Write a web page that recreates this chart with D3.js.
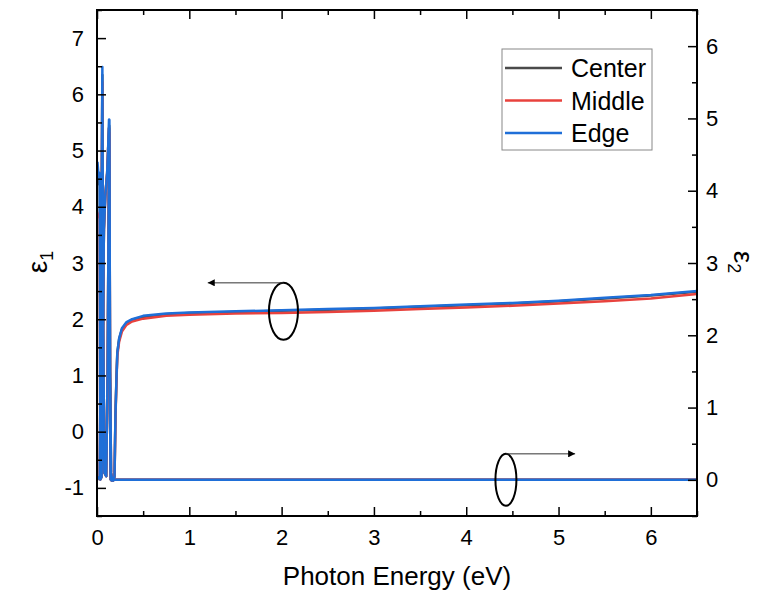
<!DOCTYPE html>
<html>
<head>
<meta charset="utf-8">
<script src="https://cdn.jsdelivr.net/npm/d3@7"></script>
<style>
  body { margin: 0; background: #fff; }
  svg { font-family: "Liberation Sans", Arial, sans-serif; }
</style>
</head>
<body>
<div id="chart"></div>
<script>
// series names / colours
var seriesNames = ["Center", "Middle", "Edge"];
var seriesColors = ["#4a4a4a", "#e8423d", "#1f6fd8"];

// epsilon 1 (left axis)
var eps1Energy = [0.005, 0.02, 0.03, 0.036, 0.05, 0.06, 0.075, 0.09, 0.1, 0.11, 0.12, 0.13, 0.138, 0.148,
  0.16, 0.175, 0.19, 0.2, 0.21, 0.22, 0.24, 0.27, 0.32, 0.38, 0.5, 0.75, 1, 1.5, 2, 2.5, 3, 3.5, 4, 4.5,
  5, 5.5, 6, 6.5];
var eps1Center = [4.6, 4.4, 4.5, -0.85, -0.8, 1.5, 3.6, 4.2, 4.4, 4.6, 5.0, 5.4, 1.0, -0.85,
  -0.87, -0.87, -0.8, 0.3, 0.9, 1.4, 1.65, 1.82, 1.93, 1.99, 2.04, 2.09, 2.11, 2.13, 2.15, 2.17, 2.19, 2.22, 2.25, 2.28,
  2.32, 2.37, 2.42, 2.49];
var eps1Middle = [3.8, 3.85, 3.9, -0.85, -0.8, 1.5, 3.6, 4.2, 4.4, 4.6, 5.0, 5.4, 1.0, -0.85,
  -0.87, -0.87, -0.8, 0.25, 0.85, 1.35, 1.6, 1.78, 1.9, 1.96, 2.01, 2.06, 2.08, 2.1, 2.11, 2.13, 2.15, 2.18, 2.21, 2.24,
  2.28, 2.32, 2.37, 2.45];
var eps1Edge = [4.8, 4.5, 4.6, -0.85, -0.8, 1.5, 3.6, 4.2, 4.4, 4.6, 5.0, 5.55, 1.0, -0.85,
  -0.87, -0.87, -0.8, 0.3, 0.9, 1.4, 1.66, 1.84, 1.95, 2.0, 2.06, 2.1, 2.12, 2.14, 2.16, 2.18, 2.2, 2.23, 2.26, 2.29,
  2.33, 2.38, 2.43, 2.5];

// epsilon 2 (right axis)
var eps2Energy = [0, 0.03, 0.045, 0.058, 0.068, 0.08, 0.1, 0.115, 0.125, 0.133, 0.142, 0.152, 0.165, 0.2, 1, 3, 6.5];
var eps2Center = [0, 0.05, 2.5, 5.6, 2.0, 0.1, 0.05, 1.5, 3.5, 4.9, 1.5, 0.1, 0, 0, 0, 0, 0];
var eps2Middle = [0, 0.05, 2.5, 5.5, 2.0, 0.1, 0.05, 1.5, 3.5, 4.8, 1.5, 0.1, 0, 0, 0, 0, 0];
var eps2Edge = [0, 0.05, 2.5, 5.71, 2.0, 0.1, 0.05, 1.5, 3.5, 4.98, 1.5, 0.1, 0, 0, 0, 0, 0];

var xTicks = [0, 1, 2, 3, 4, 5, 6];
var leftTicks = [-1, 0, 1, 2, 3, 4, 5, 6, 7];
var rightTicks = [0, 1, 2, 3, 4, 5, 6];

var width = 777, height = 590;
var margin = { top: 10, right: 80, bottom: 74, left: 97 };

var svg = d3.select("#chart").append("svg").attr("width", width).attr("height", height);

var x = d3.scaleLinear().domain([0, 6.5]).range([margin.left, width - margin.right]);
var yL = d3.scaleLinear().domain([-1.5, 7.5]).range([height - margin.bottom, margin.top]);
var yR = d3.scaleLinear().domain([-0.5, 6.5]).range([height - margin.bottom, margin.top]);

var eps1 = [eps1Center, eps1Middle, eps1Edge];
var eps2 = [eps2Center, eps2Middle, eps2Edge];

svg.append("clipPath").attr("id", "clip").append("rect")
  .attr("x", margin.left).attr("y", margin.top)
  .attr("width", width - margin.left - margin.right)
  .attr("height", height - margin.top - margin.bottom);

var lines = svg.append("g").attr("clip-path", "url(#clip)");
seriesNames.forEach(function (name, i) {
  var l1 = d3.line().x((d, j) => x(eps1Energy[j])).y((d) => yL(d));
  var l2 = d3.line().x((d, j) => x(eps2Energy[j])).y((d) => yR(d));
  lines.append("path").attr("d", l2(eps2[i])).attr("fill", "none")
    .attr("stroke", seriesColors[i]).attr("stroke-width", 2.5).attr("stroke-linejoin", "round");
  lines.append("path").attr("d", l1(eps1[i])).attr("fill", "none")
    .attr("stroke", seriesColors[i]).attr("stroke-width", 2.5).attr("stroke-linejoin", "round");
});

// axes, ticks inward
var fmt = (d) => String(d);
function minor(domain) {
  var out = [];
  for (var v = Math.ceil(domain[0] * 2) / 2; v <= domain[1] + 1e-9; v += 0.5) {
    if (Math.abs(v - Math.round(v)) > 1e-6) out.push(v);
  }
  return out;
}

function drawAxis(axis, major, minorVals, translate, pad) {
  var g = svg.append("g").attr("transform", translate);
  g.call(axis(major).tickSizeInner(-9).tickSizeOuter(0).tickPadding(pad));
  g.append("g").call(axis(minorVals).tickSizeInner(-5).tickSizeOuter(0).tickFormat(""));
  g.selectAll(".domain").remove();
  g.selectAll("line").attr("stroke", "#000").attr("stroke-width", 1.5);
  g.selectAll("text").attr("font-size", 22).attr("fill", "#000");
  return g;
}

var bottom = drawAxis((t) => d3.axisBottom(x).tickValues(t).tickFormat(fmt), xTicks, minor(x.domain()),
  `translate(0,${height - margin.bottom})`, 12);
bottom.selectAll("text").attr("dy", "17px");
drawAxis((t) => d3.axisTop(x).tickValues(t).tickFormat(""), xTicks, minor(x.domain()),
  `translate(0,${margin.top})`, 12);
drawAxis((t) => d3.axisLeft(yL).tickValues(t).tickFormat(fmt), leftTicks, minor(yL.domain()),
  `translate(${margin.left},0)`, 13);
drawAxis((t) => d3.axisRight(yR).tickValues(t).tickFormat(fmt), rightTicks, minor(yR.domain()),
  `translate(${width - margin.right},0)`, 9);

// frame
svg.append("rect").attr("x", margin.left).attr("y", margin.top)
  .attr("width", width - margin.left - margin.right)
  .attr("height", height - margin.top - margin.bottom)
  .attr("fill", "none").attr("stroke", "#000").attr("stroke-width", 2);

// axis titles
svg.append("text").attr("x", (margin.left + width - margin.right) / 2).attr("y", 585)
  .attr("text-anchor", "middle").attr("font-size", 26).text("Photon Energy (eV)");

var t1 = svg.append("text").attr("transform", "translate(47,262) rotate(-90)")
  .attr("text-anchor", "middle").attr("font-size", 28);
t1.append("tspan").text("ε");
t1.append("tspan").attr("font-size", 18).attr("dy", 6).text("1");

var t2 = svg.append("text").attr("transform", "translate(734,262) rotate(90)")
  .attr("text-anchor", "middle").attr("font-size", 28);
t2.append("tspan").text("ε");
t2.append("tspan").attr("font-size", 18).attr("dy", 6).text("2");

// annotations
svg.append("defs").append("marker").attr("id", "arrow").attr("viewBox", "0 0 10 10")
  .attr("refX", 10).attr("refY", 5).attr("markerWidth", 14).attr("markerHeight", 7)
  .attr("markerUnits", "userSpaceOnUse").attr("orient", "auto")
  .append("path").attr("d", "M0,0L10,5L0,10Z").attr("fill", "#000");

function annotate(ex, ey, ys, rx, ry, toX) {
  var cx = x(ex), cy = ys(ey);
  svg.append("ellipse").attr("cx", cx).attr("cy", cy).attr("rx", rx).attr("ry", ry)
    .attr("fill", "none").attr("stroke", "#000").attr("stroke-width", 2);
  svg.append("line").attr("x1", cx).attr("y1", cy - ry).attr("x2", x(toX)).attr("y2", cy - ry)
    .attr("stroke", "#333").attr("stroke-width", 1).attr("marker-end", "url(#arrow)");
}
annotate(2.02, 2.14, yL, 14.5, 28.5, 1.2);
annotate(4.43, 0, yR, 10.5, 26, 5.18);

// legend
var lg = svg.append("g").attr("transform", "translate(502,49)");
lg.append("rect").attr("width", 150).attr("height", 101).attr("fill", "#fff")
  .attr("stroke", "#888").attr("stroke-width", 1);
seriesNames.forEach(function (name, i) {
  var yy = 19 + i * 32.5;
  lg.append("line").attr("x1", 3).attr("x2", 60).attr("y1", yy).attr("y2", yy)
    .attr("stroke", seriesColors[i]).attr("stroke-width", 2.5);
  lg.append("text").attr("x", 69).attr("y", yy + 9).attr("font-size", 25).text(name);
});
</script>
</body>
</html>
